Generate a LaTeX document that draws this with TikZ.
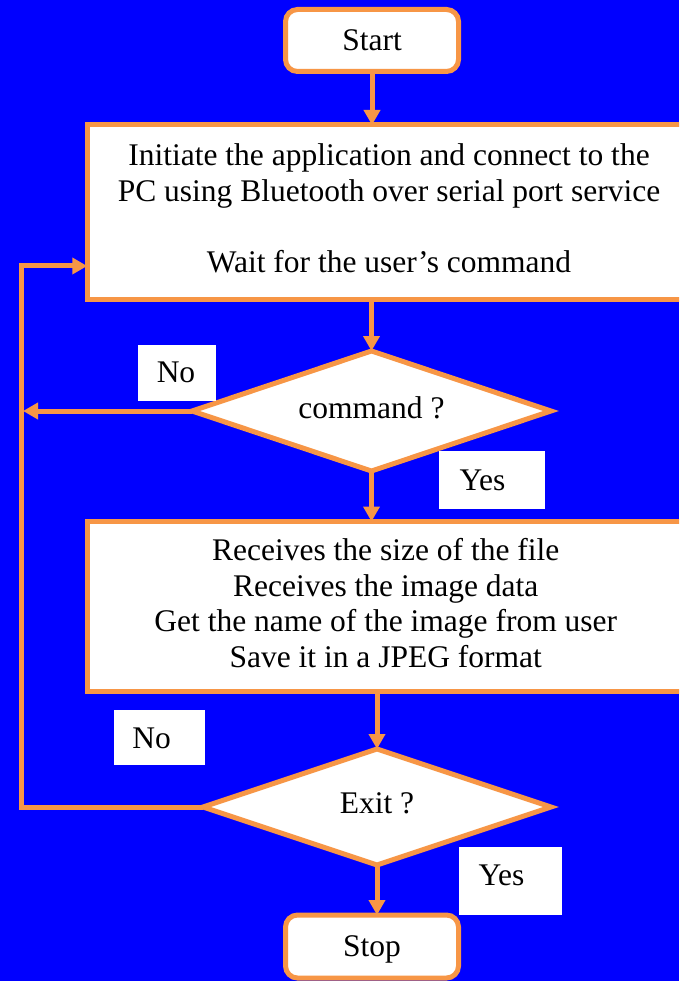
\documentclass[tikz,border=0pt]{standalone}
\usepackage{fontspec}
\setmainfont{Liberation Serif}
\usetikzlibrary{arrows.meta,shapes.geometric}
\definecolor{bgblue}{RGB}{0,0,255}
\definecolor{orng}{RGB}{247,150,70}
\begin{document}
\begin{tikzpicture}[x=1pt,y=-1pt,
  every node/.style={font=\fontsize{31.5}{35.7}\selectfont, inner sep=0pt, outer sep=0pt},
  flowbox/.style={draw=orng, fill=white, line width=5pt, align=center, text depth=7pt},
  roundbox/.style={draw=orng, fill=white, line width=5pt, rounded corners=12pt, text depth=0pt},
  decision/.style={diamond, aspect=3, draw=orng, fill=white, line width=5pt, text depth=7pt},
  lblbox/.style={fill=white},
  conn/.style={draw=orng, line width=5pt},
  arr/.style={conn, -{Triangle[width=16pt,length=15pt]}}]
\useasboundingbox (0,0) rectangle (679,981);
\fill[bgblue] (0,0) rectangle (679,981);
\clip (0,0) rectangle (679,981);

% nodes
\node[roundbox, minimum width=173pt, minimum height=62pt] (start) at (372,40.5) {Start};
\node[flowbox, minimum width=603.5pt, minimum height=174pt] (box1) at (389,212)
  {Initiate the application and connect to the\\PC using Bluetooth over serial port service\\[35.7pt]Wait for the user’s command};
\node[decision, minimum width=359pt, minimum height=120pt] (d1) at (371.5,411) {command ?};
\node[flowbox, minimum width=596.5pt, minimum height=170pt] (box2) at (385.75,606.5)
  {Receives the size of the file\\Receives the image data\\Get the name of the image from user\\Save it in a JPEG format};
\node[decision, minimum width=348pt, minimum height=116pt] (d2) at (377,807) {Exit ?};
\node[roundbox, minimum width=173pt, minimum height=63pt] (stop) at (372,946.5) {Stop};

% labels
\node[lblbox, minimum width=78pt, minimum height=56pt] (no1) at (177,373) {};
\node (no1t) at (176,372.5) {No};
\node[lblbox, minimum width=106pt, minimum height=58pt] (yes1) at (492,480) {};
\node (yes1t) at (482.5,480) {Yes};
\node[lblbox, minimum width=91pt, minimum height=55pt] (no2) at (159.5,737.5) {};
\node (no2t) at (151.7,738) {No};
\node[lblbox, minimum width=103pt, minimum height=68pt] (yes2) at (510.5,881) {};
\node (yes2t) at (501.5,875) {Yes};

% loop coordinates
\coordinate (loopL) at (21,266);
\coordinate (loopTip) at (23,411);

% connectors
\draw[arr] (start.south) -- (start.south |- box1.north);
\draw[arr] (d1.north |- box1.south) -- (d1.north);
\draw[arr] (d1.south) -- (d1.south |- box2.north);
\draw[arr] (d2.north |- box2.south) -- (d2.north);
\draw[arr] (d2.south) -- (d2.south |- stop.north);
\draw[arr] (d1.west) -- (d1.west -| loopTip);
\draw[arr, line join=miter] (d2.west) -- (d2.west -| loopL) -- (loopL) -- (loopL -| box1.west);
\end{tikzpicture}
\end{document}
